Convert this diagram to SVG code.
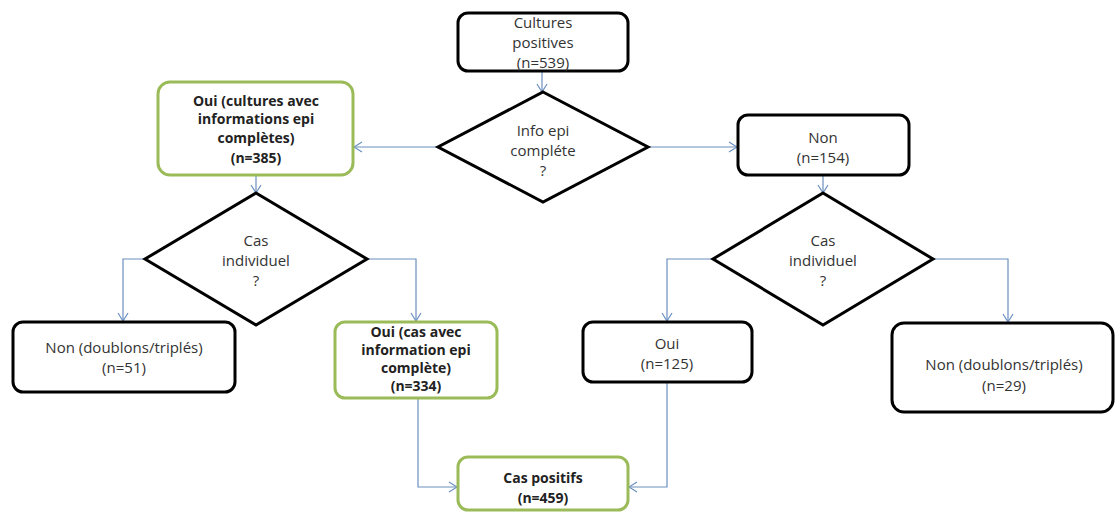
<svg xmlns="http://www.w3.org/2000/svg" width="1116" height="512" viewBox="0 0 1116 512">
<defs>
<style>
.box{fill:#fff;stroke:#000;stroke-width:3}
.gbox{fill:#fff;stroke:#9bbb59;stroke-width:3}
.dia{fill:#fff;stroke:#000;stroke-width:3;stroke-linejoin:miter}
.t{font-family:"Open Sans","Liberation Sans",sans-serif;font-size:15px;fill:#333;text-anchor:middle;dominant-baseline:central}
.b{font-weight:bold;font-size:14px;fill:#222}
.c{fill:none;stroke:#6a8fc0;stroke-width:1.2}
</style>
<marker id="ah" viewBox="0 0 10 12" refX="9" refY="6" markerWidth="10" markerHeight="12" markerUnits="userSpaceOnUse" orient="auto">
<path d="M1,1 L9,6 L1,11" fill="none" stroke="#6a8fc0" stroke-width="1.2"/>
</marker>
</defs>
<rect width="1116" height="512" fill="#fff"/>
<g id="connectors">
<path class="c" d="M542,72 V92" marker-end="url(#ah)"/>
<path class="c" d="M438,147 H354" marker-end="url(#ah)"/>
<path class="c" d="M648,147 H737" marker-end="url(#ah)"/>
<path class="c" d="M256,176 V193" marker-end="url(#ah)"/>
<path class="c" d="M823,176 V193" marker-end="url(#ah)"/>
<path class="c" d="M145,259 H123 V321" marker-end="url(#ah)"/>
<path class="c" d="M367,259 H416 V321" marker-end="url(#ah)"/>
<path class="c" d="M713,259 H667 V321" marker-end="url(#ah)"/>
<path class="c" d="M933,259 H1008 V322" marker-end="url(#ah)"/>
<path class="c" d="M418,398 V487 H457" marker-end="url(#ah)"/>
<path class="c" d="M667,383 V487 H629" marker-end="url(#ah)"/>
</g>
<g id="n-cultures">
<rect class="box" x="458" y="13" width="170" height="58" rx="10"/>
<text class="t" x="543" y="22">Cultures</text>
<text class="t" x="543" y="42">positives</text>
<text class="t" x="543" y="62">(n=539)</text>
</g>
<g id="n-info">
<polygon class="dia" points="543,92 648,147 543,202 438,147"/>
<text class="t" x="543" y="130">Info epi</text>
<text class="t" x="543" y="150">compléte</text>
<text class="t" x="543" y="170">?</text>
</g>
<g id="n-oui-cultures">
<rect class="gbox" x="158" y="82" width="195" height="93" rx="12"/>
<text class="t b" x="256" y="100">Oui (cultures avec</text>
<text class="t b" x="256" y="118">informations epi</text>
<text class="t b" x="256" y="137">complètes)</text>
<text class="t b" x="256" y="157">(n=385)</text>
</g>
<g id="n-non154">
<rect class="box" x="738" y="115" width="171" height="60" rx="10"/>
<text class="t" x="823" y="137">Non</text>
<text class="t" x="823" y="157">(n=154)</text>
</g>
<g id="n-cas-left">
<polygon class="dia" points="256,193 367,259 256,325 145,259"/>
<text class="t" x="256" y="240">Cas</text>
<text class="t" x="256" y="260">individuel</text>
<text class="t" x="256" y="280">?</text>
</g>
<g id="n-cas-right">
<polygon class="dia" points="823,193 933,259 823,325 713,259"/>
<text class="t" x="823" y="240">Cas</text>
<text class="t" x="823" y="260">individuel</text>
<text class="t" x="823" y="280">?</text>
</g>
<g id="n-non51">
<rect class="box" x="13" y="322" width="222" height="70" rx="10"/>
<text class="t" x="124" y="347">Non (doublons/triplés)</text>
<text class="t" x="124" y="367">(n=51)</text>
</g>
<g id="n-oui334">
<rect class="gbox" x="335" y="322" width="162" height="76" rx="10"/>
<text class="t b" x="416" y="331">Oui (cas avec</text>
<text class="t b" x="416" y="349">information epi</text>
<text class="t b" x="416" y="367">complète)</text>
<text class="t b" x="416" y="385">(n=334)</text>
</g>
<g id="n-oui125">
<rect class="box" x="583" y="322" width="169" height="60" rx="10"/>
<text class="t" x="667" y="343">Oui</text>
<text class="t" x="667" y="363">(n=125)</text>
</g>
<g id="n-non29">
<rect class="box" x="892" y="323" width="221" height="89" rx="12"/>
<text class="t" x="1004" y="364">Non (doublons/triplés)</text>
<text class="t" x="1004" y="385">(n=29)</text>
</g>
<g id="n-cas-positifs">
<rect class="gbox" x="458" y="457" width="170" height="53" rx="10"/>
<text class="t b" x="543" y="477">Cas positifs</text>
<text class="t b" x="543" y="497">(n=459)</text>
</g>
</svg>
